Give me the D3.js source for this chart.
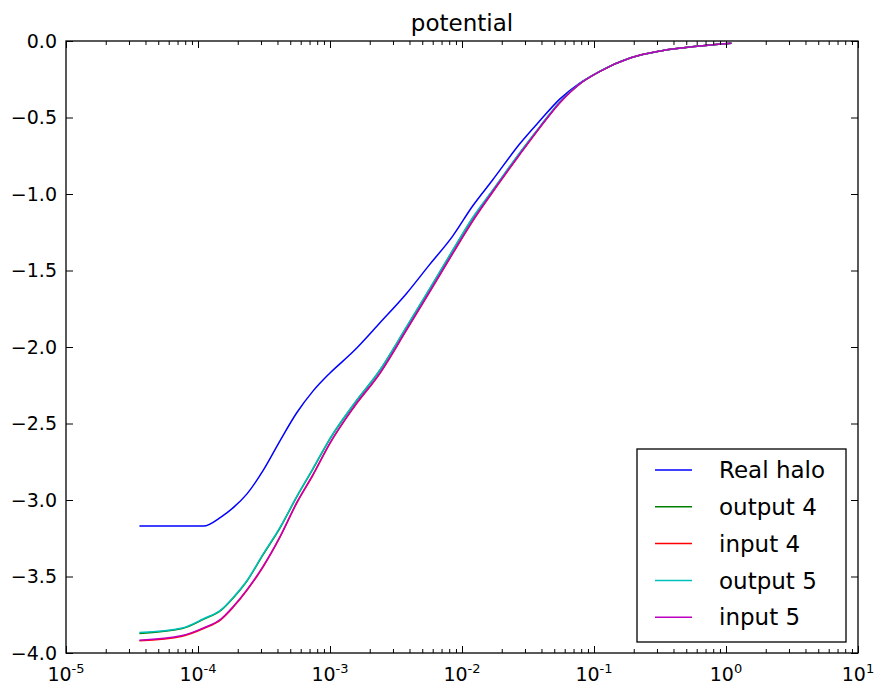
<!DOCTYPE html>
<html>
<head>
<meta charset="utf-8">
<script src="https://cdn.jsdelivr.net/npm/d3@7"></script>
<style>
  body { margin: 0; background: #fff; }
  svg { display: block; font-family: "DejaVu Sans", sans-serif; }
</style>
</head>
<body>
<script>
// radius bins and potential profiles
const radius = [3.6e-5, 7.6e-5, 1.1e-4, 1.5e-4, 1.85e-4, 2.35e-4, 3.1e-4, 4.2e-4, 5.6e-4, 7.4e-4,
  1.0e-3, 1.5e-3, 2.4e-3, 3.8e-3, 5.7e-3, 8.5e-3, 1.2e-2, 1.7e-2, 2.75e-2, 3.9e-2,
  5.5e-2, 7.8e-2, 0.11, 0.19, 0.32, 0.63, 1.1];
const realHalo = [-3.17, -3.17, -3.17, -3.11, -3.05, -2.96, -2.81, -2.61, -2.43, -2.29,
  -2.17, -2.03, -1.84, -1.65, -1.46, -1.275, -1.08, -0.91, -0.67, -0.52,
  -0.38, -0.275, -0.20, -0.11, -0.065, -0.033, -0.015];
const output4 = [-3.872, -3.84, -3.78, -3.72, -3.64, -3.53, -3.36, -3.18, -2.98, -2.80,
  -2.60, -2.38, -2.15, -1.87, -1.62, -1.37, -1.16, -0.98, -0.73, -0.56,
  -0.40, -0.28, -0.20, -0.11, -0.065, -0.033, -0.015];
const input4 = [-3.92, -3.89, -3.84, -3.78, -3.70, -3.59, -3.44, -3.24, -3.02, -2.84,
  -2.63, -2.40, -2.17, -1.89, -1.64, -1.39, -1.18, -0.99, -0.74, -0.565,
  -0.405, -0.28, -0.20, -0.11, -0.065, -0.033, -0.015];
const output5 = [-3.866, -3.836, -3.776, -3.716, -3.636, -3.526, -3.356, -3.176, -2.976, -2.796,
  -2.597, -2.377, -2.147, -1.867, -1.617, -1.367, -1.157, -0.977, -0.728, -0.558,
  -0.399, -0.279, -0.199, -0.11, -0.065, -0.033, -0.015];
const input5 = [-3.916, -3.886, -3.836, -3.776, -3.696, -3.586, -3.436, -3.236, -3.016, -2.836,
  -2.627, -2.397, -2.167, -1.887, -1.637, -1.387, -1.177, -0.987, -0.738, -0.563,
  -0.403, -0.28, -0.20, -0.11, -0.065, -0.033, -0.015];

const seriesNames = ["Real halo", "output 4", "input 4", "output 5", "input 5"];
const seriesValues = [realHalo, output4, input4, output5, input5];
const seriesColors = ["#0000ff", "#008000", "#ff0000", "#00bfbf", "#bf00bf"];

const xExponents = [-5, -4, -3, -2, -1, 0, 1];
const yTicks = [0, -0.5, -1, -1.5, -2, -2.5, -3, -3.5, -4];
const titleText = "potential";

const width = 877, height = 688;
const margin = { top: 41, right: 19, bottom: 35, left: 66 };
const innerW = width - margin.left - margin.right;
const innerH = height - margin.top - margin.bottom;

const svg = d3.select("body").append("svg")
  .attr("width", width)
  .attr("height", height);

const x = d3.scaleLog().domain([1e-5, 10]).range([margin.left, width - margin.right]);
const y = d3.scaleLinear().domain([-4, 0]).range([height - margin.bottom, margin.top]);

const xMajor = xExponents.map(e => Math.pow(10, e));
const xMinor = xMajor.slice(0, -1).flatMap(v => d3.range(2, 10).map(k => k * v));

// lines
const line = d3.line()
  .x(d => x(d[0]))
  .y(d => y(d[1]))
  .curve(d3.curveMonotoneX);

const plot = svg.append("g");
seriesValues.forEach((vals, i) => {
  plot.append("path")
    .datum(radius.map((r, j) => [r, vals[j]]))
    .attr("fill", "none")
    .attr("stroke", seriesColors[i])
    .attr("stroke-width", 1.5)
    .attr("stroke-linejoin", "round")
    .attr("d", line);
});

// inward ticks on all four sides
const tickAxis = (axisFn, scale, values, size, transform) => {
  const g = svg.append("g")
    .attr("transform", transform)
    .call(axisFn(scale).tickValues(values).tickSize(-size).tickFormat(""));
  g.select(".domain").remove();
  g.selectAll("line").attr("stroke", "#000").attr("stroke-width", 1);
};
tickAxis(d3.axisBottom, x, xMajor, 7, `translate(0,${height - margin.bottom})`);
tickAxis(d3.axisBottom, x, xMinor, 4, `translate(0,${height - margin.bottom})`);
tickAxis(d3.axisTop, x, xMajor, 7, `translate(0,${margin.top})`);
tickAxis(d3.axisTop, x, xMinor, 4, `translate(0,${margin.top})`);
tickAxis(d3.axisLeft, y, yTicks, 7, `translate(${margin.left},0)`);
tickAxis(d3.axisRight, y, yTicks, 7, `translate(${width - margin.right},0)`);

// frame
svg.append("rect")
  .attr("x", margin.left)
  .attr("y", margin.top)
  .attr("width", innerW)
  .attr("height", innerH)
  .attr("fill", "none")
  .attr("stroke", "#000")
  .attr("stroke-width", 1.3);

// x tick labels 10^n
const xLabels = svg.append("g")
  .selectAll("text")
  .data(xExponents)
  .enter()
  .append("text")
  .attr("x", d => x(Math.pow(10, d)))
  .attr("y", height - 7)
  .attr("text-anchor", "middle")
  .style("font-size", "19px")
  .attr("fill", "#000");
xLabels.append("tspan").text("10");
xLabels.append("tspan")
  .attr("dy", -8)
  .style("font-size", "13px")
  .text(d => d < 0 ? `-${-d}` : `${d}`);

// y tick labels
svg.append("g")
  .selectAll("text")
  .data(yTicks)
  .enter()
  .append("text")
  .attr("x", margin.left - 9)
  .attr("y", d => y(d))
  .attr("dy", "0.36em")
  .attr("text-anchor", "end")
  .style("font-size", "19px")
  .attr("fill", "#000")
  .text(d => (d < 0 ? "\u2212" : "") + Math.abs(d).toFixed(1));

// title
svg.append("text")
  .attr("x", margin.left + innerW / 2)
  .attr("y", 31)
  .attr("text-anchor", "middle")
  .style("font-size", "23px")
  .attr("fill", "#000")
  .text(titleText);

// legend
const legend = svg.append("g");
legend.append("rect")
  .attr("x", 637)
  .attr("y", 449)
  .attr("width", 209)
  .attr("height", 193)
  .attr("fill", "#fff")
  .attr("stroke", "#000")
  .attr("stroke-width", 1.3);
const rows = legend.selectAll("g.row")
  .data(seriesNames)
  .enter()
  .append("g")
  .attr("class", "row")
  .attr("transform", (d, i) => `translate(0,${470 + i * 36.8})`);
rows.append("line")
  .attr("x1", 655).attr("x2", 692)
  .attr("y1", 0).attr("y2", 0)
  .attr("stroke", (d, i) => seriesColors[i])
  .attr("stroke-width", 1.5);
rows.append("text")
  .attr("x", 719)
  .attr("dy", "0.36em")
  .style("font-size", "23px")
  .attr("fill", "#000")
  .text(d => d);
</script>
</body>
</html>
